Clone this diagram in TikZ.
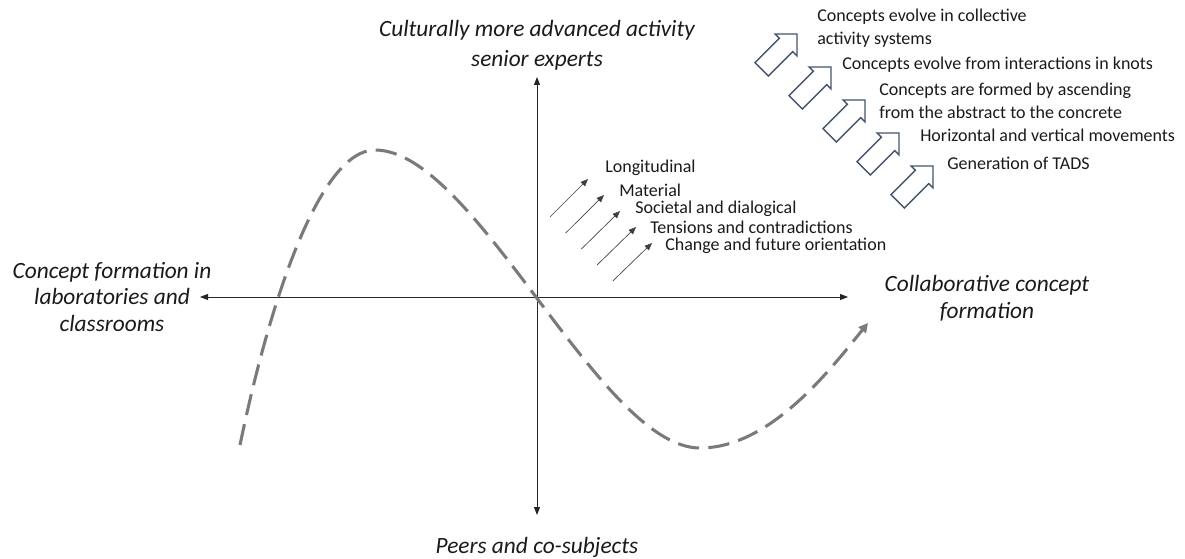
\documentclass[tikz,border=0pt]{standalone}
\usepackage{fontspec}
\setmainfont{Carlito}
\usetikzlibrary{arrows.meta}
\definecolor{curvegrey}{HTML}{7A7A7A}
\definecolor{outline}{HTML}{44546A}
\definecolor{txt}{HTML}{1A1A1A}
\begin{document}
\begin{tikzpicture}[x=0.75pt,y=-0.75pt,
  axis/.style={draw=black!85,line width=0.7pt,{Triangle[length=6pt,width=4.5pt]}-{Triangle[length=6pt,width=4.5pt]}},
  curve/.style={draw=curvegrey,line width=2.3pt,dash pattern=on 16pt off 7pt,-{Triangle[length=7pt,width=7pt]}},
  thin arrow/.style={draw=black!75,line width=0.5pt,-{Triangle[length=5.5pt,width=4.5pt]}},
  biglabel/.style={font=\fontsize{17.5}{20}\selectfont\itshape,text=txt,align=center,inner sep=0pt},
  smalllabel/.style={font=\fontsize{13.5}{17.25}\selectfont,text=txt,anchor=west,align=left,inner sep=0pt},
  barrowstyle/.style={draw=outline,line width=1.1pt,fill=white,line join=miter},
  barrow/.pic={\path[barrowstyle] (0,0) -- (-15.5,15.5) -- (-15.5,9.5) -- (-50,9.5) -- (-50,-9.5) -- (-15.5,-9.5) -- (-15.5,-15.5) -- cycle;}
]
\useasboundingbox (0,0) rectangle (1185,559);

% axes
\coordinate (axL) at (200,297);
\coordinate (axR) at (848,297);
\coordinate (axT) at (537,77);
\coordinate (axB) at (537,515);
\draw[axis] (axL) -- (axR);
\draw[axis] (axT) -- (axB);

% axis labels
\node[biglabel,font=\fontsize{17.5}{22.5}\selectfont\itshape] (top) at (537,45) {Culturally more advanced activity\\senior experts};
\node[biglabel] (bottom) at (537,547) {Peers and co-subjects};
\node[biglabel] (left) at (112,297) {Concept formation in\\laboratories and\\classrooms};
\node[biglabel] (right) at (987,298) {Collaborative concept\\formation};

% curve
\draw[curve] (240,445) .. controls (270,300) and (320,150) .. (375,150)
  .. controls (475,150) and (600,448) .. (700,448)
  .. controls (770,448) and (830,370) .. (868,323);

% small arrows
\foreach \i in {0,...,4}{
  \coordinate (s\i) at ({550+15.7*\i},{217+16*\i});
  \coordinate (e\i) at ({588+16*\i},{179+16*\i});
  \draw[thin arrow] (s\i) -- (e\i);
}
\node[smalllabel] (l1) at (605,168) {Longitudinal};
\node[smalllabel] (l2) at (619,190) {Material};
\node[smalllabel] (l3) at (635,209) {Societal and dialogical};
\node[smalllabel] (l4) at (650,227) {Tensions and contradictions};
\node[smalllabel] (l5) at (665,246) {Change and future orientation};

% block arrows
\foreach \i in {0,...,4}{
  \pic[rotate=45] at ({797+34*\i},{34+33*\i}) {barrow};
}
\node[smalllabel] (r1) at (817,28.5) {Concepts evolve in collective\\activity systems};
\node[smalllabel] (r2) at (842,65) {Concepts evolve from interactions in knots};
\node[smalllabel] (r3) at (879,100.5) {Concepts are formed by ascending\\from the abstract to the concrete};
\node[smalllabel] (r4) at (920,135) {Horizontal and vertical movements};
\node[smalllabel] (r5) at (947,163) {Generation of TADS};
\end{tikzpicture}
\end{document}
